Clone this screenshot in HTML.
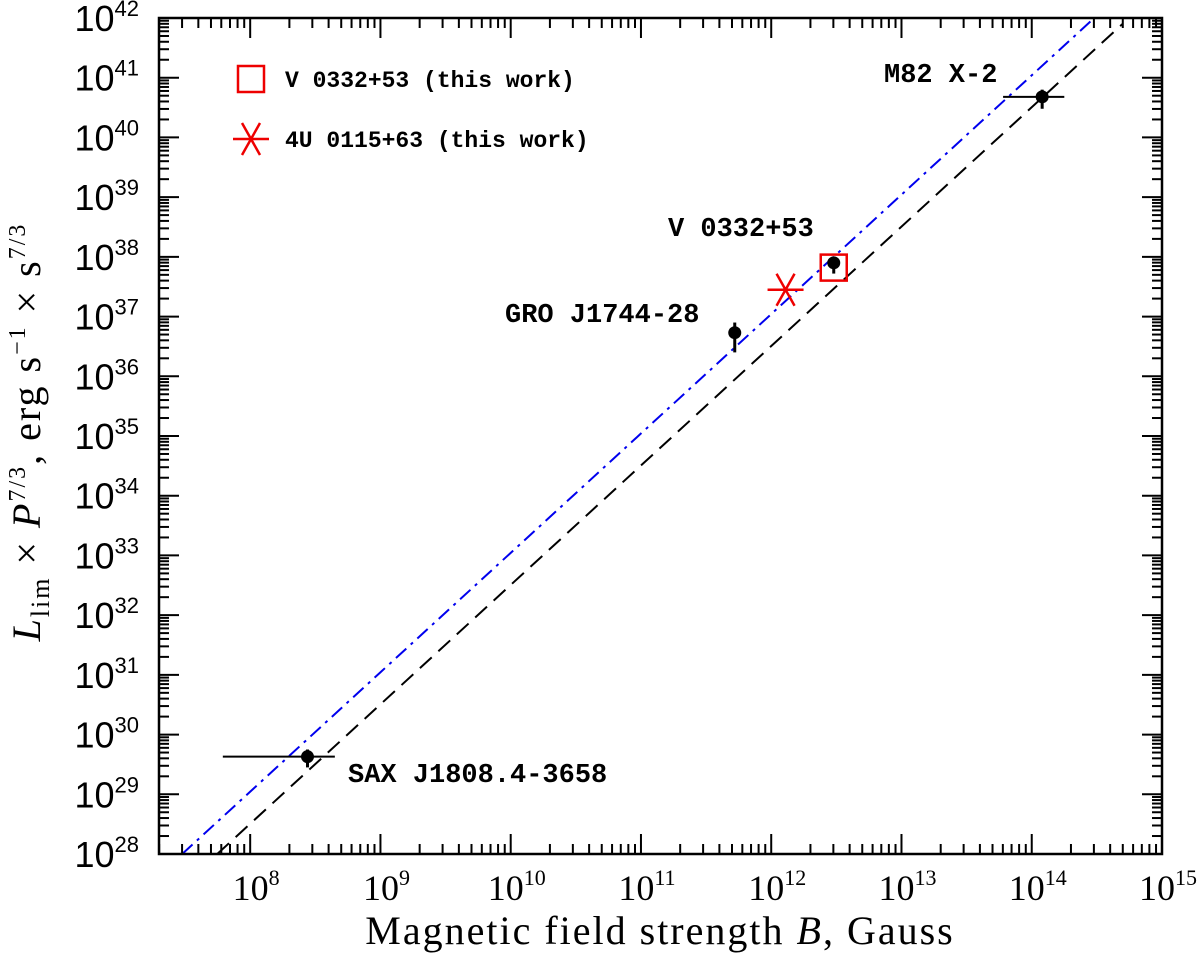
<!DOCTYPE html>
<html><head><meta charset="utf-8"><style>
body{margin:0;background:#fff;}
svg{display:block;}
</style></head><body>
<svg id="chart" width="1200" height="958" xmlns="http://www.w3.org/2000/svg"></svg>
<script>
const xTickExps=[8,9,10,11,12,13,14,15];
const yTickExps=[28,29,30,31,32,33,34,35,36,37,38,39,40,41,42];
const ptNames=["SAX J1808.4-3658","GRO J1744-28","V 0332+53","M82 X-2"];
const ptLogB=[8.44,11.72,12.48,14.08];
const ptLogL=[29.63,36.73,37.90,40.68];
const ptBlo=[7.79,11.72,12.48,13.78];
const ptBhi=[8.65,11.72,12.48,14.25];
const ptLlo=[29.45,36.40,37.72,40.48];
const ptLhi=[29.75,36.90,38.00,40.80];
const squareLogB=[12.48];const squareLogL=[37.82];
const starLogB=[12.11];const starLogL=[37.45];
const blueLineLogB=[7.478,14.50];const blueLineLogL=[28,42.04];
const blackLineLogB=[7.747,14.70];const blackLineLogL=[28,41.906];

const X0=159,X1=1162,Y0=854,Y1=18;
const xmin=7.30,xmax=15,ymin=28,ymax=42;
function sx(v){return X0+(v-xmin)/(xmax-xmin)*(X1-X0);}
function sy(v){return Y0-(v-ymin)/(ymax-ymin)*(Y0-Y1);}
const svg=document.getElementById('chart');
const NS='http://www.w3.org/2000/svg';
function mk(tag,attrs,parent){const e=document.createElementNS(NS,tag);for(const k in attrs)e.setAttribute(k,attrs[k]);(parent||svg).appendChild(e);return e;}

const defs=mk('defs',{});const cp=mk('clipPath',{id:'pc'},defs);mk('rect',{x:X0,y:Y1,width:X1-X0,height:Y0-Y1},cp);

const bl=mk('line',{x1:sx(blueLineLogB[0]),y1:sy(blueLineLogL[0]),x2:sx(blueLineLogB[1]),y2:sy(blueLineLogL[1]),stroke:'#0000ee','stroke-width':2,'stroke-dasharray':'14,6,3,6','clip-path':'url(#pc)'});


const kl=mk('line',{x1:sx(blackLineLogB[0]),y1:sy(blackLineLogL[0]),x2:sx(blackLineLogB[1]),y2:sy(blackLineLogL[1]),stroke:'#000','stroke-width':2,'stroke-dasharray':'16,9','clip-path':'url(#pc)'});



const fr=mk('rect',{x:X0,y:Y1,width:X1-X0,height:Y0-Y1,fill:'none',stroke:'#000','stroke-width':2.5});



const tg=mk('g',{stroke:'#000','stroke-width':2});


for(let e=7;e<=14;e++){for(let m=1;m<10;m++){const v=e+Math.log10(m);if(v<xmin||v>xmax)continue;const x=sx(v);const L=m===1?20:10;
 mk('line',{x1:x,y1:Y0,x2:x,y2:Y0-L},tg);mk('line',{x1:x,y1:Y1,x2:x,y2:Y1+L},tg);}}
for(let e=28;e<=41;e++){for(let m=1;m<10;m++){const v=e+Math.log10(m);const y=sy(v);const L=m===1?20:10;
 mk('line',{x1:X0,y1:y,x2:X0+L,y2:y},tg);mk('line',{x1:X1,y1:y,x2:X1-L,y2:y},tg);}}

xTickExps.forEach(e=>{const t=mk('text',{x:sx(e)+6,y:Y0+46,'text-anchor':'middle','font-family':'Liberation Serif, serif','font-size':36});
 
 
 t.textContent='10';const s=mk('tspan',{'font-size':22,dy:-15},t);s.textContent=String(e);});
yTickExps.forEach(e=>{const t=mk('text',{x:139,y:sy(e)+13,'text-anchor':'end','font-family':'Liberation Sans, sans-serif','font-size':36});
 
 
 t.textContent='10';const s=mk('tspan',{'font-size':22,dy:-15},t);s.textContent=String(e);});

ptNames.forEach((n,i)=>{const g=mk('g',{});
 
 
 if(ptBhi[i]>ptBlo[i])mk('line',{x1:sx(ptBlo[i]),x2:sx(ptBhi[i]),y1:sy(ptLogL[i]),y2:sy(ptLogL[i]),stroke:'#000','stroke-width':2},g);
 mk('line',{x1:sx(ptLogB[i]),x2:sx(ptLogB[i]),y1:sy(ptLlo[i]),y2:sy(ptLhi[i]),stroke:'#000','stroke-width':3},g);
 mk('circle',{cx:sx(ptLogB[i]),cy:sy(ptLogL[i]),r:6.5,fill:'#000'},g);});

const labs=[["SAX J1808.4-3658",348,782],["GRO J1744-28",505,322],["V 0332+53",668,236],["M82 X-2",884,82]];
labs.forEach(l=>{const t=mk('text',{x:l[1],y:l[2],'font-family':'Liberation Mono, monospace','font-weight':'bold','font-size':27});
 
 
 t.textContent=l[0];});

function square(cx,cy,name){const r=mk('rect',{x:cx-13,y:cy-13,width:26,height:26,fill:'none',stroke:'#e00','stroke-width':2.5});
 
 }
function star(cx,cy,name){const g=mk('g',{stroke:'#e00','stroke-width':2.5});
 
 
 mk('line',{x1:cx-18,y1:cy,x2:cx+18,y2:cy},g);
 mk('line',{x1:cx-9,y1:cy-16,x2:cx+9,y2:cy+16},g);
 mk('line',{x1:cx+9,y1:cy-16,x2:cx-9,y2:cy+16},g);}
square(sx(squareLogB[0]),sy(squareLogL[0]),'v0332-square-marker');
star(sx(starLogB[0]),sy(starLogL[0]),'4u0115-star-marker');

square(251,79,'legend-square');
star(251,139,'legend-star');
[["V 0332+53 (this work)",87],["4U 0115+63 (this work)",147]].forEach(l=>{const t=mk('text',{x:285,y:l[1],'font-family':'Liberation Mono, monospace','font-weight':'bold','font-size':23});
 
 
 t.textContent=l[0];});

const xt=mk('text',{x:660,y:944,'text-anchor':'middle','font-family':'Liberation Serif, serif','font-size':40,'letter-spacing':2});


xt.innerHTML='Magnetic field strength <tspan font-style="italic">B</tspan>, Gauss';
const yt=mk('text',{x:0,y:0,'text-anchor':'middle','font-family':'Liberation Serif, serif','font-size':40,'letter-spacing':2,transform:'translate(40,432) rotate(-90)'});


yt.innerHTML='<tspan font-style="italic">L</tspan><tspan font-size="26" dy="9">lim</tspan><tspan dy="-9"> × </tspan><tspan font-style="italic">P</tspan><tspan font-size="24" dy="-15">7/3</tspan><tspan dy="15">, erg s</tspan><tspan font-size="24" dy="-15">−1</tspan><tspan dy="15"> × s</tspan><tspan font-size="24" dy="-15">7/3</tspan>';
</script>
</body></html>
